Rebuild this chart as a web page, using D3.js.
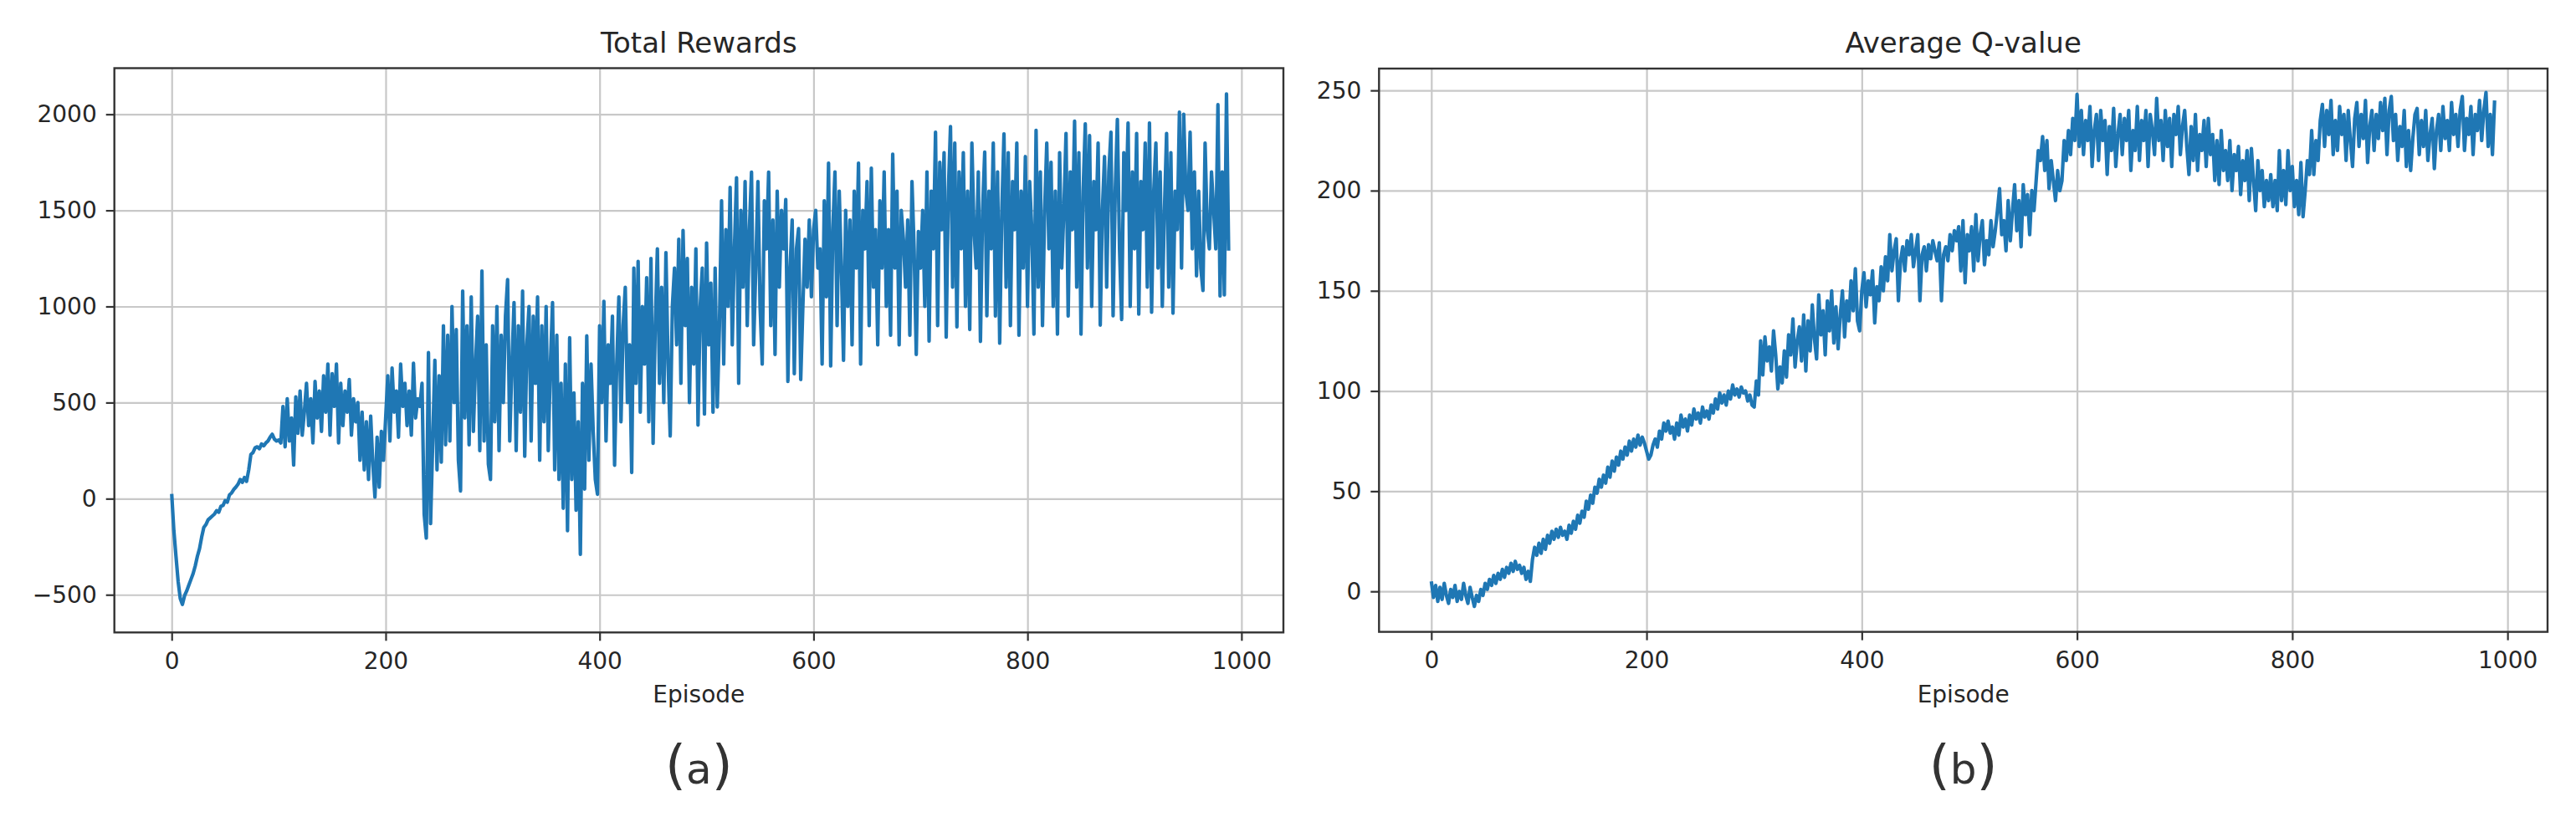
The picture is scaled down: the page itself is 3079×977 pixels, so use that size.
<!DOCTYPE html>
<html><head><meta charset="utf-8">
<script src="https://cdn.jsdelivr.net/npm/d3@7"></script>
<style>body{margin:0;background:#fff} text{font-family:"DejaVu Sans",sans-serif}</style>
</head><body><svg id="c" width="3079" height="977"></svg>
<script>
// Episode spacing between recorded points
const episodeStep = 2;

// Total reward per episode (every 2nd episode)
const rewards = [
25,-165,-300,-430,-520,-550,-505,-480,-450,-420,
-390,-350,-300,-260,-200,-150,-135,-110,-100,-90,
-80,-62,-70,-40,-35,-10,-18,20,30,48,
60,75,100,85,110,90,150,230,240,265,
270,260,285,275,290,300,320,335,310,300,
305,290,480,270,520,300,420,175,530,340,
560,330,450,600,380,520,290,610,420,560,
350,640,450,700,330,650,480,700,290,600,
380,560,450,620,330,520,400,500,200,450,
150,400,100,430,180,8,320,60,350,200,
420,640,300,680,450,560,320,700,480,600,
380,560,330,705,420,520,480,600,-80,-205,
760,-130,300,720,150,640,190,900,280,850,
300,1000,500,880,200,40,1080,420,900,280,
1050,350,700,950,250,1185,300,800,180,100,
900,400,1000,250,850,500,950,1140,300,700,
1020,250,900,450,1080,220,800,1000,300,950,
600,1050,200,900,400,1000,250,700,1020,150,
850,100,600,-50,700,-167,837,100,550,-60,
400,-290,600,50,847,200,700,350,100,23,
900,500,1027,300,800,600,950,174,700,1050,
400,900,1100,500,800,136,1200,600,1235,450,
1000,700,1150,400,1250,288,900,1300,600,1100,
500,1280,700,326,1000,1200,800,1350,600,1396,
900,1250,500,1100,700,1300,383,1000,1200,440,
1330,800,1121,450,1200,477,900,1550,700,1400,
1000,1620,800,1300,1670,600,1500,1100,1650,900,
1400,1699,800,1200,1650,1000,700,1550,1300,1699,
900,1450,750,1600,1100,1500,1300,1557,610,1200,
1450,650,1300,1405,620,1000,1350,1100,1450,1050,
1400,1500,1200,1300,700,1550,1050,1746,690,1400,
1700,900,1600,1200,720,1500,1000,1450,800,1600,
1200,1746,700,1500,1300,1650,900,1720,1100,1400,
800,1550,1200,1700,1000,1400,850,1793,1200,1600,
800,1500,1350,1100,1450,850,1650,1300,750,1390,
1200,1500,1000,1700,820,1600,1300,1907,900,1750,
1400,1800,840,1600,1936,1100,1850,894,1700,1300,
1800,1000,1600,880,1850,1400,1200,1700,818,1500,
1803,951,1600,1300,1850,950,1700,809,1500,1898,
1100,1800,900,1650,1400,1850,850,1600,1200,1780,
1000,1650,1400,856,1917,1100,1700,900,1500,1850,
1300,1750,1000,1600,856,1800,1200,1500,1900,950,
1700,1400,1964,1100,1800,856,1600,1950,1200,1889,
1000,1650,1400,1850,903,1500,1780,1100,1700,1907,
951,1600,1973,1300,932,1800,1500,1955,1000,1700,
1300,1900,960,1650,1400,1850,1100,1955,970,1600,
1850,1200,1700,1000,1500,1900,1100,1800,965,1600,
1400,2011,1200,2000,1600,1500,1907,1300,1700,1159,
1600,1200,1083,1850,1400,1300,1700,1500,1300,2050,
1055,1700,1060,2106,1290
];

// Average Q-value per episode (every 2nd episode)
const qValues = [
5,-3,3,-5,2,-4,4,-2,-6,1,
-3,3,-5,0,-4,4,-2,-6,2,-3,
-7.5,-2,-5,1,-2,4,1,6,3,8,
4,9,6,11,7,12,9,14,10,15,
11,13,9,12,6,10,5,16,22,18,
24,19,26,21,28,24,30,26,31,27,
32,28,30,26,33,29,35,31,38,34,
40,37,45,41,48,44,52,49,56,52,
58,54,62,57,65,60,67,63,70,66,
72,68,75,70,76,72,78,73,77,74,
70,66,68,73,76,72,80,76,84,80,
85,79,82,76,84,78,88,82,86,80,
88,83,91,86,89,84,92,87,90,86,
93,89,96,91,99,94,98,93,100,96,
103,98,101,97,102,99,100,95,98,93,
92,105,98,125,108,127,115,122,110,130,
118,101,112,104,120,107,128,118,136,112,
125,132,115,138,110,135,120,143,126,116,
148,128,140,118,145,130,150,124,142,121,
138,150,127,145,135,155,140,161,135,130,
150,159,142,155,148,160,134,152,145,162,
150,167,155,178,160,170,176,145,165,172,
160,175,168,178,162,170,178,145,168,172,
160,173,166,175,170,165,174,145,168,172,
165,178,170,180,175,182,160,185,154,178,
170,182,160,188,165,178,185,163,175,168,
185,172,180,190,201,178,185,170,195,175,
190,203,180,195,172,203,188,198,178,200,
190,205,220,215,227,210,225,201,215,205,
195,210,200,205,225,215,230,218,236,225,
248,222,240,218,235,225,242,212,230,238,
215,240,225,235,208,232,220,241,212,228,
238,218,236,225,240,210,230,220,242,215,
235,225,240,212,238,230,218,246,225,235,
215,240,222,236,212,238,228,242,218,232,
240,222,208,232,215,238,210,228,220,235,
212,236,218,228,205,225,203,230,210,220,
205,225,200,218,210,222,198,215,205,220,
195,221,205,190,215,200,210,192,205,195,
208,192,205,190,220,195,210,193,220,200,
212,192,205,188,214,187,200,215,208,230,
208,225,215,235,243,222,240,228,245,218,
235,220,242,228,238,215,240,225,212,236,
244,222,238,226,245,214,232,240,220,238,
226,244,230,246,218,240,247,225,238,215,
232,222,240,212,230,210,226,238,241,218,
235,222,240,215,228,236,211,230,238,220,
242,226,235,220,244,228,238,222,240,247,
220,236,228,242,218,238,230,245,225,240,
249,222,238,218,245
];

const xTicks = [0, 200, 400, 600, 800, 1000];
const rewardTicks = [-500, 0, 500, 1000, 1500, 2000];
const qTicks = [0, 50, 100, 150, 200, 250];
const titles = ["Total Rewards", "Average Q-value"];
const captions = ["a", "b"];
const xLabel = "Episode";

const svg = d3.select("#c");
svg.append("rect").attr("width", 3079).attr("height", 977).attr("fill", "#fff");

function panel(cfg) {
  const g = svg.append("g");
  const x = d3.scaleLinear().domain(cfg.xDomain).range([cfg.left, cfg.right]);
  const y = d3.scaleLinear().domain(cfg.yDomain).range([cfg.bottom, cfg.top]);
  const w = cfg.right - cfg.left, h = cfg.bottom - cfg.top;

  // grid
  const gx = g.append("g").attr("transform", `translate(0,${cfg.bottom})`)
    .call(d3.axisBottom(x).tickValues(xTicks).tickSize(-h).tickFormat(""));
  const gy = g.append("g").attr("transform", `translate(${cfg.left},0)`)
    .call(d3.axisLeft(y).tickValues(cfg.yTicks).tickSize(-w).tickFormat(""));
  [gx, gy].forEach(a => {
    a.select(".domain").remove();
    a.selectAll("line").attr("stroke", "#c8c8c8").attr("stroke-width", 2.2);
  });

  // data line
  const line = d3.line()
    .x((d, i) => x(i * episodeStep))
    .y(d => y(d));
  g.append("path").datum(cfg.data)
    .attr("d", line)
    .attr("fill", "none")
    .attr("stroke", "#1f77b4")
    .attr("stroke-width", 4.2)
    .attr("stroke-linejoin", "round");

  // spines
  g.append("rect").attr("x", cfg.left).attr("y", cfg.top).attr("width", w).attr("height", h)
    .attr("fill", "none").attr("stroke", "#333").attr("stroke-width", 2.4);

  // axes with tick labels
  const ax = g.append("g").attr("transform", `translate(0,${cfg.bottom})`)
    .call(d3.axisBottom(x).tickValues(xTicks).tickSize(10).tickPadding(14).tickFormat(d3.format("d")));
  const ay = g.append("g").attr("transform", `translate(${cfg.left},0)`)
    .call(d3.axisLeft(y).tickValues(cfg.yTicks).tickSize(10).tickPadding(11).tickFormat(d3.format("d")));
  [ax, ay].forEach(a => {
    a.select(".domain").remove();
    a.selectAll("line").attr("stroke", "#333").attr("stroke-width", 2.2);
    a.selectAll("text").attr("font-size", 28).attr("fill", "#262626")
      .attr("font-family", "DejaVu Sans");
  });

  const cx = (cfg.left + cfg.right) / 2;
  g.append("text").attr("x", cx).attr("y", 63).attr("text-anchor", "middle")
    .attr("font-size", 34).attr("fill", "#262626").text(cfg.title);
  g.append("text").attr("x", cx).attr("y", 840).attr("text-anchor", "middle")
    .attr("font-size", 28).attr("fill", "#262626").text(xLabel);

  const cap = g.append("text").attr("x", cx).attr("y", 937).attr("text-anchor", "middle")
    .attr("fill", "#333");
  cap.append("tspan").attr("font-size", 64).text("(");
  cap.append("tspan").attr("font-size", 50).text(cfg.caption);
  cap.append("tspan").attr("font-size", 64).text(")");
}

panel({
  left: 136.7, right: 1534, top: 81.5, bottom: 756.3,
  xDomain: [-53.6, 1039.2], yDomain: [-696, 2240],
  data: rewards, yTicks: rewardTicks, title: titles[0], caption: captions[0]
});
panel({
  left: 1648.3, right: 3045, top: 82, bottom: 755.6,
  xDomain: [-48.6, 1037.2], yDomain: [-20.2, 260.9],
  data: qValues, yTicks: qTicks, title: titles[1], caption: captions[1]
});
</script>
</body></html>
